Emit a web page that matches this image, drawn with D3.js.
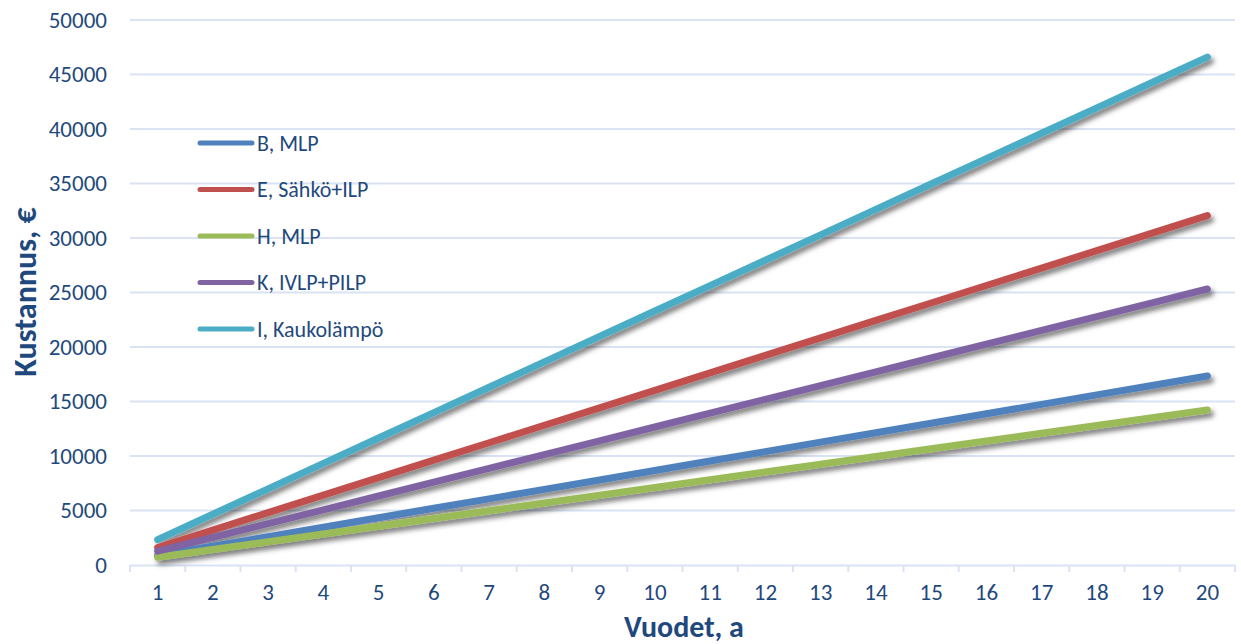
<!DOCTYPE html>
<html>
<head>
<meta charset="utf-8">
<script src="https://cdn.jsdelivr.net/npm/d3@7/dist/d3.min.js"></script>
<style>
  html, body { margin: 0; padding: 0; background: #ffffff; }
  svg { display: block; font-family: Calibri, Carlito, "Open Sans", "Liberation Sans", sans-serif; }
</style>
</head>
<body>
<svg id="chart" width="1241" height="644"></svg>
<script>
// Years on the category axis
const years = ["1","2","3","4","5","6","7","8","9","10","11","12","13","14","15","16","17","18","19","20"];

// Cumulative cost per heating option (€)
const seriesNames = ["B, MLP", "E, Sähkö+ILP", "H, MLP", "K, IVLP+PILP", "I, Kaukolämpö"];
const costB = [867, 1734, 2601, 3468, 4335, 5202, 6069, 6936, 7803, 8670, 9537, 10404, 11271, 12138, 13005, 13872, 14739, 15606, 16473, 17340];
const costE = [1602, 3205, 4807, 6410, 8012, 9615, 11217, 12820, 14422, 16025, 17627, 19230, 20832, 22435, 24037, 25640, 27242, 28845, 30447, 32050];
const costH = [711, 1422, 2133, 2844, 3555, 4266, 4977, 5688, 6399, 7110, 7821, 8532, 9243, 9954, 10665, 11376, 12087, 12798, 13509, 14220];
const costK = [1266, 2532, 3798, 5064, 6330, 7596, 8862, 10128, 11394, 12660, 13926, 15192, 16458, 17724, 18990, 20256, 21522, 22788, 24054, 25320];
const costI = [2330, 4660, 6990, 9320, 11650, 13980, 16310, 18640, 20970, 23300, 25630, 27960, 30290, 32620, 34950, 37280, 39610, 41940, 44270, 46600];
const yTicks = [0, 5000, 10000, 15000, 20000, 25000, 30000, 35000, 40000, 45000, 50000];
const colors = ["#4F81BD", "#C0504D", "#9BBB59", "#8064A2", "#4BACC6"];

const series = [costB, costE, costH, costK, costI].map((v, i) => ({ name: seriesNames[i], values: v, color: colors[i] }));

const svg = d3.select("#chart");
const textColor = "#1F497D";
const gridColor = "#D9E3F3";
const fontStack = "Calibri, Carlito, 'Open Sans', sans-serif";

const plotLeft = 130, plotRight = 1235, plotTop = 20, plotBottom = 565;

const x = d3.scaleBand().domain(years).range([plotLeft, plotRight]);
const y = d3.scaleLinear().domain([0, 50000]).range([plotBottom, plotTop]);

// Drop shadow for the series lines
const defs = svg.append("defs");
const f = defs.append("filter").attr("id", "shadow")
  .attr("x", "-10%").attr("y", "-10%").attr("width", "120%").attr("height", "130%");
f.append("feDropShadow").attr("dx", 3).attr("dy", 4).attr("stdDeviation", 2.4)
  .attr("flood-color", "#000").attr("flood-opacity", 0.5);

// Horizontal gridlines
svg.append("g").selectAll("line").data(yTicks.filter(d => d > 0)).join("line")
  .attr("x1", plotLeft).attr("x2", plotRight)
  .attr("y1", d => y(d)).attr("y2", d => y(d))
  .attr("stroke", gridColor).attr("stroke-width", 2);

// Y axis labels
const yAxis = d3.axisLeft(y).tickValues(yTicks).tickSize(0).tickPadding(0).tickFormat(d3.format("d"));
const yg = svg.append("g").attr("transform", `translate(${plotLeft - 23},0)`).call(yAxis);
yg.select(".domain").remove();
yg.selectAll("text").attr("fill", textColor).style("font-size", "23px")
  .style("font-family", fontStack);

// X axis with tick marks at category boundaries
const xAxis = d3.axisBottom(x).tickSize(0).tickPadding(19);
const xg = svg.append("g").attr("transform", `translate(0,${plotBottom})`).call(xAxis);
xg.select(".domain").attr("stroke", gridColor).attr("stroke-width", 2);
xg.selectAll("text").attr("fill", textColor).style("font-size", "23px")
  .style("font-family", fontStack);
const bounds = years.map(d => x(d)).concat([plotRight]);
xg.append("g").selectAll("line").data(bounds).join("line")
  .attr("x1", d => d).attr("x2", d => d).attr("y1", 0).attr("y2", 7)
  .attr("stroke", gridColor).attr("stroke-width", 2);

// Series lines
const line = d3.line()
  .x((d, i) => x(years[i]) + x.bandwidth() / 2)
  .y(d => y(d));

svg.append("g").attr("filter", "url(#shadow)").selectAll("path").data(series).join("path")
  .attr("d", d => line(d.values))
  .attr("fill", "none")
  .attr("stroke", d => d.color)
  .attr("stroke-width", 7)
  .attr("stroke-linecap", "round")
  .attr("stroke-linejoin", "round");

// Legend
const legend = svg.append("g").selectAll("g").data(series).join("g")
  .attr("transform", (d, i) => `translate(200,${143 + i * 46.5})`);
legend.append("line").attr("x1", 0).attr("x2", 52).attr("y1", 0).attr("y2", 0)
  .attr("stroke", d => d.color).attr("stroke-width", 5).attr("stroke-linecap", "round");
legend.append("text").attr("x", 57).attr("y", 0).attr("dy", "0.35em")
  .attr("fill", textColor).style("font-size", "22px").style("font-family", fontStack).text(d => d.name);

// Axis titles
svg.append("text").attr("x", 684).attr("y", 637)
  .attr("text-anchor", "middle").attr("fill", textColor).style("font-family", fontStack)
  .style("font-size", "30px").style("font-weight", "bold").text("Vuodet, a");
svg.append("text").attr("transform", "translate(36,292) rotate(-90)")
  .attr("text-anchor", "middle").attr("fill", textColor).style("font-family", fontStack)
  .style("font-size", "32px").style("font-weight", "bold").text("Kustannus, €");
</script>
</body>
</html>
